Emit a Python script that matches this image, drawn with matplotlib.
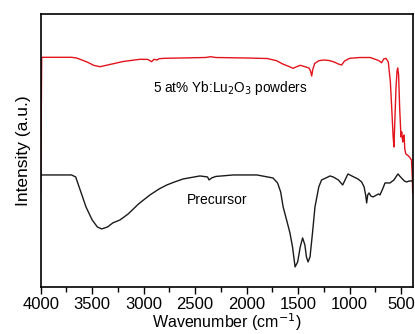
import matplotlib.pyplot as plt
import numpy as np

plt.rcParams['font.family'] = ['Liberation Sans', 'DejaVu Sans']

# 5 at% Yb:Lu2O3 powders (red), wavenumber / intensity (a.u.)
wn_powder = [4000, 3990, 3700, 3650, 3550, 3480, 3424, 3350, 3200, 3036, 2960, 2923, 2900, 2870, 2850,
             2800, 2400, 2350, 2300, 2000, 1800, 1710, 1650, 1590, 1550, 1510, 1480, 1440, 1395,
             1380, 1369, 1358, 1340, 1300, 1250, 1200, 1150, 1110, 1078, 1050, 1000, 900, 800,
             720, 690, 670, 648, 625, 605, 590, 578, 570, 562, 550, 540, 534, 525, 515, 502,
             495, 485, 478, 472, 465, 455, 440, 420, 400, 392, 388]
int_powder = [94, 229.7, 229.7, 229, 225, 221.5, 220.3, 222, 225.5, 227.7, 227.6, 225.3, 227.7, 227, 228.3,
              228.7, 229.5, 230.3, 229.5, 229, 228.5, 226.3, 223, 220.5, 218.7, 220.5, 221.7, 220.5, 219,
              216, 211, 217.5, 223.5, 226.3, 227, 226.5, 225, 223, 222, 226, 228.7, 229.5, 229.5,
              226.5, 224.3, 228, 228.7, 225, 205, 175, 150, 140, 165, 200, 216, 219, 212, 180, 150,
              155, 145, 150, 152, 138, 133, 132, 130, 127, 110, 94]

# Precursor (black)
wn_prec = [4000, 3700, 3660, 3620, 3560, 3500, 3450, 3408, 3350, 3300, 3230, 3150, 3050, 2939, 2850,
           2775, 2700, 2617, 2454, 2380, 2365, 2340, 2300, 2130, 1900, 1745, 1700, 1670, 1646, 1610,
           1580, 1555, 1530, 1505, 1480, 1457, 1435, 1420, 1404, 1385, 1360, 1337, 1300, 1273, 1230,
           1191, 1160, 1110, 1068, 1040, 1017, 960, 920, 884, 860, 845, 835, 825, 812, 795,
           774, 755, 738, 720, 706, 680, 657, 630, 609, 570, 545, 530, 515, 497, 470, 447,
           420, 400, 388]
int_prec = [112, 112, 110, 98, 80, 67, 60, 58, 60, 64, 67, 73, 83, 92, 98,
            102, 105, 108, 111, 110, 107, 109, 110.5, 112, 112, 109, 104, 95, 80, 66,
            54, 40, 20, 25, 40, 49, 42, 30, 25, 30, 55, 80, 100, 107, 109,
            111, 110, 107, 102, 108, 113, 110, 108, 105, 100, 92, 84, 92, 94, 91,
            90, 91, 92, 93, 92, 98, 104, 104, 104, 107, 111, 113, 111, 109, 106, 105,
            106, 106, 106]

fig = plt.figure(figsize=(4.15, 3.34), dpi=100)
ax = fig.add_axes([0.098, 0.141, 0.8965, 0.817])

ax.plot(wn_powder, int_powder, color='#e3141b', lw=1.0)
ax.plot(wn_prec, int_prec, color='#1a1a1a', lw=1.0)

ax.set_xlim(4000, 388)
ax.set_ylim(0, 273)

ax.set_xticks([4000, 3500, 3000, 2500, 2000, 1500, 1000, 500])
ax.set_xticks(np.arange(3750, 400, -500), minor=True)
ax.tick_params(axis='x', which='major', direction='out', length=5, width=1, labelsize=12, pad=2)
ax.tick_params(axis='x', which='minor', direction='out', length=3.5, width=1)
ax.set_yticks([])
for s in ax.spines.values():
    s.set_linewidth(1.2)

ax.set_xlabel('Wavenumber (cm$^{-1}$)', fontsize=11.5, labelpad=0)
ax.set_ylabel('Intensity (a.u.)', fontsize=12.5, labelpad=7)

ax.text(2160, 199, '5 at% Yb:Lu$_2$O$_3$ powders', fontsize=9.8, ha='center', va='center')
ax.text(2290, 87, 'Precursor', fontsize=10, ha='center', va='center')

fig.savefig('out.png', dpi=100)
